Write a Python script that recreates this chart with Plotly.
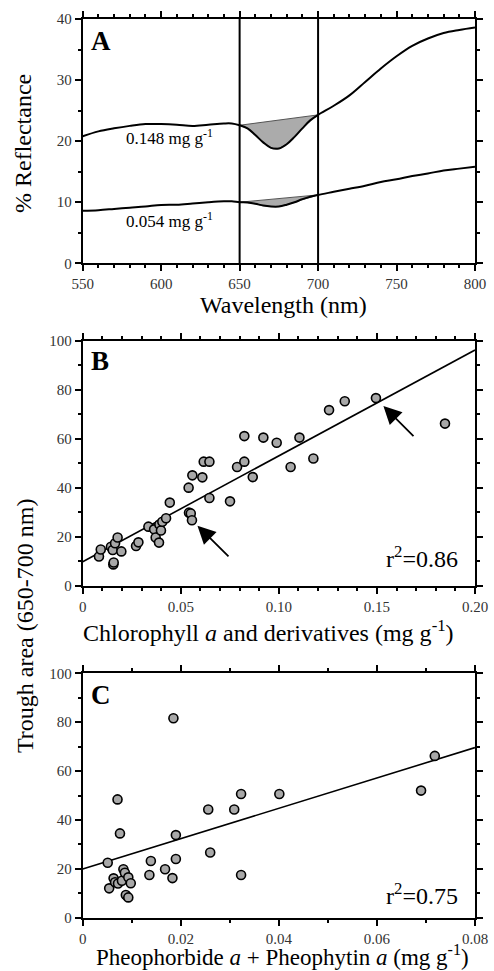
import plotly.graph_objects as go

# ---------------- Panel A data ----------------
wl = [550, 560, 570, 580, 590, 600, 610, 620, 630, 640, 645, 650, 655, 660, 665, 670,
      675, 680, 685, 690, 695, 700, 710, 720, 730, 740, 750, 760, 770, 780, 790, 800]
refl_high = [20.8, 21.6, 22.1, 22.5, 22.8, 22.8, 22.7, 22.5, 22.7, 22.9, 22.9, 22.6, 22.1,
             21.0, 19.8, 18.9, 18.8, 19.5, 20.7, 22.1, 23.4, 24.3, 25.8, 27.5, 29.7, 31.9,
             33.9, 35.6, 36.8, 37.7, 38.2, 38.6]
refl_low = [8.6, 8.7, 8.9, 9.1, 9.3, 9.55, 9.6, 9.8, 10.0, 10.15, 10.15, 10.0, 9.95, 9.75,
            9.45, 9.3, 9.3, 9.6, 10.0, 10.5, 10.9, 11.2, 11.7, 12.2, 12.7, 13.3, 13.75,
            14.3, 14.7, 15.2, 15.5, 15.8]
trough_bounds = [650, 700]
label_high = "0.148 mg g<sup>-1</sup>"
label_low = "0.054 mg g<sup>-1</sup>"

# ---------------- Panel B data ----------------
chl_x = [0.0083, 0.0092, 0.0144, 0.0153, 0.0156, 0.0158, 0.0165, 0.0178, 0.0197, 0.0272,
         0.0284, 0.0335, 0.0364, 0.0372, 0.0389, 0.0391, 0.0399, 0.0406, 0.0425, 0.0444,
         0.0540, 0.0542, 0.0551, 0.0557, 0.0559, 0.0610, 0.0617, 0.0646, 0.0646, 0.0751,
         0.0787, 0.0824, 0.0824, 0.0867, 0.0921, 0.0989, 0.1060, 0.1105, 0.1176, 0.1256,
         0.1336, 0.1495, 0.1847]
chl_y = [12.0, 14.9, 16.0, 14.7, 8.8, 9.6, 17.4, 19.8, 14.1, 16.3,
         17.8, 24.2, 23.1, 19.8, 17.7, 25.1, 22.6, 26.2, 27.6, 34.0,
         40.1, 29.9, 29.6, 26.8, 45.1, 44.3, 50.7, 50.7, 35.9, 34.5,
         48.5, 61.1, 50.7, 44.4, 60.5, 58.4, 48.5, 60.5, 52.0, 71.7,
         75.3, 76.6, 66.2]
fit_b_x = [0.0, 0.2]
fit_b_y = [9.9, 96.2]
r2_b = "r<sup>2</sup>=0.86"
# arrows: head (x, y) and tail (x, y)
arrow_head_x = [0.1533, 0.0585]
arrow_head_y = [73.4, 24.6]
arrow_tail_x = [0.1694, 0.0751]
arrow_tail_y = [60.5, 11.5]

# ---------------- Panel C data ----------------
pheo_x = [0.0051, 0.0054, 0.0063, 0.0066, 0.0071, 0.0076, 0.0072, 0.0080, 0.0083, 0.0086,
          0.0088, 0.0093, 0.0093, 0.0098, 0.0136, 0.0139, 0.0168, 0.0183, 0.0185, 0.0190,
          0.0190, 0.0256, 0.0260, 0.0309, 0.0323, 0.0323, 0.0401, 0.0690, 0.0718]
pheo_y = [22.5, 12.0, 16.1, 14.5, 48.4, 34.5, 14.0, 15.1, 19.8, 18.4,
          9.3, 16.5, 8.3, 14.1, 17.5, 23.2, 19.8, 16.2, 81.6, 33.8,
          24.0, 44.3, 26.7, 44.3, 50.6, 17.5, 50.6, 52.0, 66.2]
fit_c_x = [0.0, 0.08]
fit_c_y = [19.9, 69.6]
r2_c = "r<sup>2</sup>=0.75"

FONT = "Liberation Serif"
W, H = 494, 971

fig = go.Figure()

# Panel A traces
seg_x = [w for w in wl if trough_bounds[0] <= w <= trough_bounds[1]]
for ys in (refl_high, refl_low):
    seg_y = [ys[wl.index(w)] for w in seg_x]
    fig.add_trace(go.Scatter(x=seg_x + [seg_x[0]], y=seg_y + [seg_y[0]], fill="toself",
                             fillcolor="#ababab", mode="lines", line=dict(color="#555", width=1),
                             line_shape="linear", xaxis="x", yaxis="y", showlegend=False,
                             hoverinfo="skip"))
    fig.add_trace(go.Scatter(x=wl, y=ys, mode="lines", line=dict(color="black", width=2),
                             line_shape="spline", xaxis="x", yaxis="y", showlegend=False))
for b in trough_bounds:
    fig.add_trace(go.Scatter(x=[b, b], y=[0, 40], mode="lines", line=dict(color="black", width=2),
                             xaxis="x", yaxis="y", showlegend=False))

marker = dict(size=9, color="#a8a8a8", line=dict(color="black", width=1.6))

# Panel B traces
fig.add_trace(go.Scatter(x=fit_b_x, y=fit_b_y, mode="lines", line=dict(color="black", width=1.6),
                         xaxis="x2", yaxis="y2", showlegend=False))
fig.add_trace(go.Scatter(x=chl_x, y=chl_y, mode="markers", marker=marker,
                         xaxis="x2", yaxis="y2", showlegend=False))

# Panel C traces
fig.add_trace(go.Scatter(x=fit_c_x, y=fit_c_y, mode="lines", line=dict(color="black", width=1.6),
                         xaxis="x3", yaxis="y3", showlegend=False))
fig.add_trace(go.Scatter(x=pheo_x, y=pheo_y, mode="markers", marker=marker,
                         xaxis="x3", yaxis="y3", showlegend=False))

xdom = [82.7 / W, 475 / W]
def ydom(top, bottom):
    return [1 - bottom / H, 1 - top / H]

def axis_common(**kw):
    d = dict(showline=True, linecolor="black", linewidth=2, mirror="allticks",
             ticks="outside", ticklen=6, tickwidth=1.5, tickcolor="black",
             showgrid=False, zeroline=False, automargin=False,
             tickfont=dict(family=FONT, size=15, color="#333"))
    d.update(kw)
    return d

fig.update_layout(
    template="none",
    width=W, height=H, autosize=False,
    margin=dict(l=0, r=0, t=0, b=0, pad=0),
    paper_bgcolor="white", plot_bgcolor="white",
    font=dict(family=FONT, color="black"),
    xaxis=axis_common(domain=xdom, anchor="y", range=[550, 800], dtick=50,
                      minor=dict(ticks="outside", dtick=10, ticklen=3, tickcolor="black")),
    yaxis=axis_common(domain=ydom(19, 263.3), anchor="x", range=[0, 40], dtick=10,
                      minor=dict(ticks="outside", dtick=5, ticklen=3, tickcolor="black")),
    xaxis2=axis_common(domain=xdom, anchor="y2", range=[0, 0.2],
                       tickvals=[0, 0.05, 0.10, 0.15, 0.20],
                       ticktext=["0", "0.05", "0.10", "0.15", "0.20"],
                       minor=dict(ticks="outside", dtick=0.01, ticklen=3, tickcolor="black")),
    yaxis2=axis_common(domain=ydom(340.7, 586), anchor="x2", range=[0, 100], dtick=20,
                       minor=dict(ticks="outside", dtick=10, ticklen=3, tickcolor="black")),
    xaxis3=axis_common(domain=xdom, anchor="y3", range=[0, 0.08],
                       tickvals=[0, 0.02, 0.04, 0.06, 0.08],
                       ticktext=["0", "0.02", "0.04", "0.06", "0.08"],
                       minor=dict(ticks="outside", dtick=0.01, ticklen=3, tickcolor="black")),
    yaxis3=axis_common(domain=ydom(673.3, 917.7), anchor="x3", range=[0, 100], dtick=20,
                       minor=dict(ticks="outside", dtick=10, ticklen=3, tickcolor="black")),
)

ann = []
def ptext(x, y, text, size, **kw):
    d = dict(x=x / W, y=1 - y / H, xref="paper", yref="paper", text=text, showarrow=False,
             xanchor="center", yanchor="middle",
             font=dict(family=FONT, size=size, color="black"))
    d.update(kw)
    ann.append(d)

# axis titles
ptext(283, 305, "Wavelength (nm)", 24)
ptext(23, 144, "% Reflectance", 24, textangle=-90)
ptext(268, 631, "Chlorophyll <i>a</i> and derivatives (mg g<sup>-1</sup>)", 24)
ptext(25, 626, "Trough area (650-700 nm)", 24, textangle=-90)
ptext(282, 955.5, "Pheophorbide <i>a</i> + Pheophytin <i>a</i> (mg g<sup>-1</sup>)", 23)
# panel letters
ptext(89, 41, "<b>A</b>", 27, xanchor="left")
ptext(89, 361, "<b>B</b>", 27, xanchor="left")
ptext(89, 695, "<b>C</b>", 27, xanchor="left")

# spectra labels
ann.append(dict(x=605.6, y=20.7, xref="x", yref="y", text=label_high, showarrow=False,
                xanchor="center", yanchor="middle",
                font=dict(family=FONT, size=17, color="black")))
ann.append(dict(x=605.6, y=7.1, xref="x", yref="y", text=label_low, showarrow=False,
                xanchor="center", yanchor="middle",
                font=dict(family=FONT, size=17, color="black")))
# r2
ann.append(dict(x=0.1924, y=11.8, xref="x2", yref="y2", text=r2_b, showarrow=False,
                xanchor="right", yanchor="middle", font=dict(family=FONT, size=24, color="black")))
ann.append(dict(x=0.0770, y=9.7, xref="x3", yref="y3", text=r2_c, showarrow=False,
                xanchor="right", yanchor="middle", font=dict(family=FONT, size=24, color="black")))
# arrows
for hx, hy, tx, ty in zip(arrow_head_x, arrow_head_y, arrow_tail_x, arrow_tail_y):
    ann.append(dict(x=hx, y=hy, ax=tx, ay=ty, xref="x2", yref="y2", axref="x2", ayref="y2",
                    text="", showarrow=True, arrowhead=2, arrowsize=2, arrowwidth=1.8,
                    arrowcolor="black"))

fig.update_layout(annotations=ann)
fig.write_html("out.html", config={"displayModeBar": False},
               post_script="document.body.style.margin='0px';document.body.style.overflow='hidden';")
